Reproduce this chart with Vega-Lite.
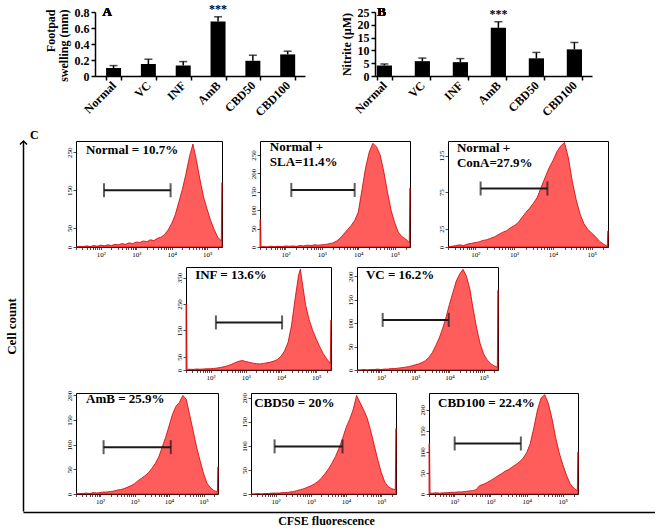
{
"$schema": "https://vega.github.io/schema/vega-lite/v6.json",
"background": "white",
"padding": {"left": 5, "top": 2, "right": 0, "bottom": 0},
"spacing": 11,
"config": {
  "font": "Liberation Serif",
  "view": {"stroke": null},
  "text": {"color": "#000"},
  "axis": {"labelFont": "Liberation Serif", "titleFont": "Liberation Serif", "labelColor": "#000", "titleColor": "#000", "domainColor": "#000", "tickColor": "#000", "grid": false, "labelFontSize": 7, "tickSize": 3, "labelPadding": 1, "labelOverlap": false}
},
"datasets": {
  "footpad": [
    {"grp": "Normal", "mean": 0.10, "hi": 0.13, "sig": ""},
    {"grp": "VC", "mean": 0.15, "hi": 0.21, "sig": ""},
    {"grp": "INF", "mean": 0.13, "hi": 0.18, "sig": ""},
    {"grp": "AmB", "mean": 0.68, "hi": 0.74, "sig": "***"},
    {"grp": "CBD50", "mean": 0.19, "hi": 0.26, "sig": ""},
    {"grp": "CBD100", "mean": 0.27, "hi": 0.31, "sig": ""}
  ],
  "nitrite": [
    {"grp": "Normal", "mean": 4.1, "hi": 4.7, "sig": ""},
    {"grp": "VC", "mean": 5.8, "hi": 7.0, "sig": ""},
    {"grp": "INF", "mean": 5.4, "hi": 6.8, "sig": ""},
    {"grp": "AmB", "mean": 18.8, "hi": 21.2, "sig": "***"},
    {"grp": "CBD50", "mean": 6.9, "hi": 9.2, "sig": ""},
    {"grp": "CBD100", "mean": 10.4, "hi": 13.1, "sig": ""}
  ],
  "gates": [
    {"g": "Normal", "x1": 2.09, "x2": 3.97, "y": 150, "label": "Normal = 10.7%"},
    {"g": "SLA", "x1": 2.16, "x2": 3.9, "y": 155, "label": ["Normal +", "SLA=11.4%"]},
    {"g": "ConA", "x1": 2.14, "x2": 3.86, "y": 80, "label": ["Normal +", "ConA=27.9%"]},
    {"g": "INF", "x1": 2.15, "x2": 4.03, "y": 180, "label": "INF = 13.6%"},
    {"g": "VC", "x1": 2.05, "x2": 3.98, "y": 107, "label": "VC = 16.2%"},
    {"g": "AmB", "x1": 2.1, "x2": 4.05, "y": 95, "label": "AmB = 25.9%"},
    {"g": "CBD50", "x1": 1.97, "x2": 3.9, "y": 99, "label": "CBD50 = 20%"},
    {"g": "CBD100", "x1": 2.01, "x2": 3.84, "y": 120, "label": "CBD100 = 22.4%"}
  ],
  "hist": [
{"g":"Normal","x":1.3,"y":0},{"g":"Normal","x":1.4,"y":2},{"g":"Normal","x":1.5,"y":1},{"g":"Normal","x":1.6,"y":3},{"g":"Normal","x":1.7,"y":1},{"g":"Normal","x":1.8,"y":4},{"g":"Normal","x":1.9,"y":2},{"g":"Normal","x":2.0,"y":5},{"g":"Normal","x":2.1,"y":3},{"g":"Normal","x":2.2,"y":6},{"g":"Normal","x":2.3,"y":4},{"g":"Normal","x":2.4,"y":7},{"g":"Normal","x":2.5,"y":6},{"g":"Normal","x":2.6,"y":9},{"g":"Normal","x":2.7,"y":7},{"g":"Normal","x":2.8,"y":11},{"g":"Normal","x":2.9,"y":9},{"g":"Normal","x":3.0,"y":13},{"g":"Normal","x":3.1,"y":12},{"g":"Normal","x":3.2,"y":16},{"g":"Normal","x":3.3,"y":14},{"g":"Normal","x":3.4,"y":19},{"g":"Normal","x":3.5,"y":17},{"g":"Normal","x":3.6,"y":23},{"g":"Normal","x":3.7,"y":26},{"g":"Normal","x":3.8,"y":33},{"g":"Normal","x":3.9,"y":45},{"g":"Normal","x":4.0,"y":62},{"g":"Normal","x":4.1,"y":85},{"g":"Normal","x":4.2,"y":118},{"g":"Normal","x":4.3,"y":152},{"g":"Normal","x":4.4,"y":192},{"g":"Normal","x":4.5,"y":238},{"g":"Normal","x":4.6,"y":272},{"g":"Normal","x":4.7,"y":228},{"g":"Normal","x":4.8,"y":178},{"g":"Normal","x":4.9,"y":132},{"g":"Normal","x":5.0,"y":100},{"g":"Normal","x":5.1,"y":70},{"g":"Normal","x":5.2,"y":46},{"g":"Normal","x":5.3,"y":26},{"g":"Normal","x":5.4,"y":16},{"g":"Normal","x":5.42,"y":170},
{"g":"SLA","x":1.3,"y":75},{"g":"SLA","x":1.315,"y":75},{"g":"SLA","x":1.33,"y":0},{"g":"SLA","x":1.4,"y":1},{"g":"SLA","x":1.5,"y":0},{"g":"SLA","x":1.6,"y":2},{"g":"SLA","x":1.7,"y":1},{"g":"SLA","x":1.8,"y":2},{"g":"SLA","x":1.9,"y":1},{"g":"SLA","x":2.0,"y":3},{"g":"SLA","x":2.1,"y":2},{"g":"SLA","x":2.2,"y":3},{"g":"SLA","x":2.3,"y":2},{"g":"SLA","x":2.4,"y":4},{"g":"SLA","x":2.5,"y":3},{"g":"SLA","x":2.6,"y":5},{"g":"SLA","x":2.7,"y":4},{"g":"SLA","x":2.8,"y":6},{"g":"SLA","x":2.9,"y":5},{"g":"SLA","x":3.0,"y":6},{"g":"SLA","x":3.1,"y":7},{"g":"SLA","x":3.2,"y":9},{"g":"SLA","x":3.3,"y":11},{"g":"SLA","x":3.4,"y":16},{"g":"SLA","x":3.5,"y":24},{"g":"SLA","x":3.6,"y":35},{"g":"SLA","x":3.7,"y":47},{"g":"SLA","x":3.8,"y":58},{"g":"SLA","x":3.9,"y":72},{"g":"SLA","x":4.0,"y":95},{"g":"SLA","x":4.1,"y":155},{"g":"SLA","x":4.2,"y":215},{"g":"SLA","x":4.3,"y":258},{"g":"SLA","x":4.4,"y":282},{"g":"SLA","x":4.5,"y":272},{"g":"SLA","x":4.6,"y":250},{"g":"SLA","x":4.7,"y":205},{"g":"SLA","x":4.8,"y":150},{"g":"SLA","x":4.9,"y":100},{"g":"SLA","x":5.0,"y":66},{"g":"SLA","x":5.1,"y":40},{"g":"SLA","x":5.2,"y":28},{"g":"SLA","x":5.3,"y":22},{"g":"SLA","x":5.4,"y":12},{"g":"SLA","x":5.42,"y":160},
{"g":"ConA","x":1.3,"y":0},{"g":"ConA","x":1.4,"y":1},{"g":"ConA","x":1.5,"y":2},{"g":"ConA","x":1.6,"y":3},{"g":"ConA","x":1.7,"y":2},{"g":"ConA","x":1.8,"y":4},{"g":"ConA","x":1.9,"y":5},{"g":"ConA","x":2.0,"y":6},{"g":"ConA","x":2.1,"y":7},{"g":"ConA","x":2.2,"y":9},{"g":"ConA","x":2.3,"y":10},{"g":"ConA","x":2.4,"y":12},{"g":"ConA","x":2.5,"y":14},{"g":"ConA","x":2.6,"y":17},{"g":"ConA","x":2.7,"y":20},{"g":"ConA","x":2.8,"y":22},{"g":"ConA","x":2.9,"y":26},{"g":"ConA","x":3.0,"y":29},{"g":"ConA","x":3.1,"y":33},{"g":"ConA","x":3.2,"y":40},{"g":"ConA","x":3.3,"y":47},{"g":"ConA","x":3.4,"y":53},{"g":"ConA","x":3.5,"y":60},{"g":"ConA","x":3.6,"y":68},{"g":"ConA","x":3.7,"y":82},{"g":"ConA","x":3.8,"y":95},{"g":"ConA","x":3.9,"y":108},{"g":"ConA","x":4.0,"y":118},{"g":"ConA","x":4.1,"y":130},{"g":"ConA","x":4.2,"y":138},{"g":"ConA","x":4.3,"y":143},{"g":"ConA","x":4.4,"y":122},{"g":"ConA","x":4.5,"y":90},{"g":"ConA","x":4.6,"y":65},{"g":"ConA","x":4.7,"y":45},{"g":"ConA","x":4.8,"y":32},{"g":"ConA","x":4.9,"y":24},{"g":"ConA","x":5.0,"y":19},{"g":"ConA","x":5.1,"y":14},{"g":"ConA","x":5.2,"y":8},{"g":"ConA","x":5.3,"y":4},{"g":"ConA","x":5.4,"y":1},{"g":"ConA","x":5.42,"y":22},
{"g":"INF","x":1.3,"y":250},{"g":"INF","x":1.315,"y":250},{"g":"INF","x":1.33,"y":2},{"g":"INF","x":1.4,"y":3},{"g":"INF","x":1.5,"y":2},{"g":"INF","x":1.6,"y":4},{"g":"INF","x":1.7,"y":3},{"g":"INF","x":1.8,"y":4},{"g":"INF","x":1.9,"y":5},{"g":"INF","x":2.0,"y":5},{"g":"INF","x":2.1,"y":6},{"g":"INF","x":2.2,"y":8},{"g":"INF","x":2.3,"y":10},{"g":"INF","x":2.4,"y":13},{"g":"INF","x":2.5,"y":17},{"g":"INF","x":2.6,"y":22},{"g":"INF","x":2.7,"y":28},{"g":"INF","x":2.8,"y":33},{"g":"INF","x":2.9,"y":36},{"g":"INF","x":3.0,"y":32},{"g":"INF","x":3.1,"y":29},{"g":"INF","x":3.2,"y":26},{"g":"INF","x":3.3,"y":24},{"g":"INF","x":3.4,"y":23},{"g":"INF","x":3.5,"y":25},{"g":"INF","x":3.6,"y":27},{"g":"INF","x":3.7,"y":30},{"g":"INF","x":3.8,"y":34},{"g":"INF","x":3.9,"y":40},{"g":"INF","x":4.0,"y":52},{"g":"INF","x":4.1,"y":72},{"g":"INF","x":4.2,"y":105},{"g":"INF","x":4.3,"y":170},{"g":"INF","x":4.4,"y":270},{"g":"INF","x":4.5,"y":360},{"g":"INF","x":4.55,"y":382},{"g":"INF","x":4.6,"y":335},{"g":"INF","x":4.7,"y":245},{"g":"INF","x":4.8,"y":190},{"g":"INF","x":4.9,"y":150},{"g":"INF","x":5.0,"y":118},{"g":"INF","x":5.1,"y":88},{"g":"INF","x":5.2,"y":62},{"g":"INF","x":5.3,"y":42},{"g":"INF","x":5.4,"y":25},{"g":"INF","x":5.42,"y":190},
{"g":"VC","x":1.3,"y":0},{"g":"VC","x":1.4,"y":0},{"g":"VC","x":1.5,"y":1},{"g":"VC","x":1.6,"y":0},{"g":"VC","x":1.7,"y":1},{"g":"VC","x":1.8,"y":1},{"g":"VC","x":1.9,"y":2},{"g":"VC","x":2.0,"y":1},{"g":"VC","x":2.1,"y":2},{"g":"VC","x":2.2,"y":2},{"g":"VC","x":2.3,"y":3},{"g":"VC","x":2.4,"y":3},{"g":"VC","x":2.5,"y":4},{"g":"VC","x":2.6,"y":5},{"g":"VC","x":2.7,"y":6},{"g":"VC","x":2.8,"y":7},{"g":"VC","x":2.9,"y":9},{"g":"VC","x":3.0,"y":11},{"g":"VC","x":3.1,"y":13},{"g":"VC","x":3.2,"y":16},{"g":"VC","x":3.3,"y":20},{"g":"VC","x":3.4,"y":27},{"g":"VC","x":3.5,"y":37},{"g":"VC","x":3.6,"y":52},{"g":"VC","x":3.7,"y":68},{"g":"VC","x":3.8,"y":88},{"g":"VC","x":3.9,"y":112},{"g":"VC","x":4.0,"y":140},{"g":"VC","x":4.1,"y":165},{"g":"VC","x":4.2,"y":190},{"g":"VC","x":4.3,"y":205},{"g":"VC","x":4.4,"y":215},{"g":"VC","x":4.5,"y":200},{"g":"VC","x":4.6,"y":172},{"g":"VC","x":4.7,"y":128},{"g":"VC","x":4.8,"y":88},{"g":"VC","x":4.9,"y":56},{"g":"VC","x":5.0,"y":34},{"g":"VC","x":5.1,"y":22},{"g":"VC","x":5.2,"y":14},{"g":"VC","x":5.3,"y":9},{"g":"VC","x":5.4,"y":6},{"g":"VC","x":5.42,"y":170},
{"g":"AmB","x":1.3,"y":0},{"g":"AmB","x":1.4,"y":1},{"g":"AmB","x":1.5,"y":1},{"g":"AmB","x":1.6,"y":2},{"g":"AmB","x":1.7,"y":1},{"g":"AmB","x":1.8,"y":3},{"g":"AmB","x":1.9,"y":2},{"g":"AmB","x":2.0,"y":3},{"g":"AmB","x":2.1,"y":4},{"g":"AmB","x":2.2,"y":4},{"g":"AmB","x":2.3,"y":5},{"g":"AmB","x":2.4,"y":6},{"g":"AmB","x":2.5,"y":8},{"g":"AmB","x":2.6,"y":9},{"g":"AmB","x":2.7,"y":11},{"g":"AmB","x":2.8,"y":14},{"g":"AmB","x":2.9,"y":17},{"g":"AmB","x":3.0,"y":21},{"g":"AmB","x":3.1,"y":27},{"g":"AmB","x":3.2,"y":32},{"g":"AmB","x":3.3,"y":37},{"g":"AmB","x":3.4,"y":43},{"g":"AmB","x":3.5,"y":52},{"g":"AmB","x":3.6,"y":62},{"g":"AmB","x":3.7,"y":75},{"g":"AmB","x":3.8,"y":95},{"g":"AmB","x":3.9,"y":115},{"g":"AmB","x":4.0,"y":138},{"g":"AmB","x":4.1,"y":162},{"g":"AmB","x":4.2,"y":178},{"g":"AmB","x":4.3,"y":186},{"g":"AmB","x":4.4,"y":200},{"g":"AmB","x":4.5,"y":192},{"g":"AmB","x":4.6,"y":160},{"g":"AmB","x":4.7,"y":128},{"g":"AmB","x":4.8,"y":95},{"g":"AmB","x":4.9,"y":68},{"g":"AmB","x":5.0,"y":42},{"g":"AmB","x":5.1,"y":22},{"g":"AmB","x":5.2,"y":13},{"g":"AmB","x":5.3,"y":7},{"g":"AmB","x":5.4,"y":4},{"g":"AmB","x":5.42,"y":55},
{"g":"CBD50","x":1.3,"y":0},{"g":"CBD50","x":1.4,"y":0},{"g":"CBD50","x":1.5,"y":1},{"g":"CBD50","x":1.6,"y":0},{"g":"CBD50","x":1.7,"y":1},{"g":"CBD50","x":1.8,"y":1},{"g":"CBD50","x":1.9,"y":2},{"g":"CBD50","x":2.0,"y":2},{"g":"CBD50","x":2.1,"y":2},{"g":"CBD50","x":2.2,"y":3},{"g":"CBD50","x":2.3,"y":3},{"g":"CBD50","x":2.4,"y":4},{"g":"CBD50","x":2.5,"y":5},{"g":"CBD50","x":2.6,"y":7},{"g":"CBD50","x":2.7,"y":9},{"g":"CBD50","x":2.8,"y":11},{"g":"CBD50","x":2.9,"y":14},{"g":"CBD50","x":3.0,"y":17},{"g":"CBD50","x":3.1,"y":21},{"g":"CBD50","x":3.2,"y":26},{"g":"CBD50","x":3.3,"y":33},{"g":"CBD50","x":3.4,"y":42},{"g":"CBD50","x":3.5,"y":52},{"g":"CBD50","x":3.6,"y":64},{"g":"CBD50","x":3.7,"y":78},{"g":"CBD50","x":3.8,"y":95},{"g":"CBD50","x":3.9,"y":115},{"g":"CBD50","x":4.0,"y":138},{"g":"CBD50","x":4.1,"y":155},{"g":"CBD50","x":4.2,"y":175},{"g":"CBD50","x":4.3,"y":205},{"g":"CBD50","x":4.4,"y":190},{"g":"CBD50","x":4.5,"y":175},{"g":"CBD50","x":4.6,"y":158},{"g":"CBD50","x":4.7,"y":132},{"g":"CBD50","x":4.8,"y":102},{"g":"CBD50","x":4.9,"y":72},{"g":"CBD50","x":5.0,"y":45},{"g":"CBD50","x":5.1,"y":25},{"g":"CBD50","x":5.2,"y":15},{"g":"CBD50","x":5.3,"y":11},{"g":"CBD50","x":5.4,"y":9},{"g":"CBD50","x":5.42,"y":136},
{"g":"CBD100","x":1.3,"y":120},{"g":"CBD100","x":1.315,"y":120},{"g":"CBD100","x":1.33,"y":2},{"g":"CBD100","x":1.4,"y":2},{"g":"CBD100","x":1.5,"y":3},{"g":"CBD100","x":1.6,"y":2},{"g":"CBD100","x":1.7,"y":3},{"g":"CBD100","x":1.8,"y":3},{"g":"CBD100","x":1.9,"y":4},{"g":"CBD100","x":2.0,"y":4},{"g":"CBD100","x":2.1,"y":5},{"g":"CBD100","x":2.2,"y":5},{"g":"CBD100","x":2.3,"y":6},{"g":"CBD100","x":2.4,"y":7},{"g":"CBD100","x":2.5,"y":8},{"g":"CBD100","x":2.6,"y":10},{"g":"CBD100","x":2.7,"y":20},{"g":"CBD100","x":2.8,"y":23},{"g":"CBD100","x":2.9,"y":27},{"g":"CBD100","x":3.0,"y":32},{"g":"CBD100","x":3.1,"y":37},{"g":"CBD100","x":3.2,"y":43},{"g":"CBD100","x":3.3,"y":48},{"g":"CBD100","x":3.4,"y":54},{"g":"CBD100","x":3.5,"y":58},{"g":"CBD100","x":3.6,"y":64},{"g":"CBD100","x":3.7,"y":70},{"g":"CBD100","x":3.8,"y":76},{"g":"CBD100","x":3.9,"y":85},{"g":"CBD100","x":4.0,"y":98},{"g":"CBD100","x":4.1,"y":120},{"g":"CBD100","x":4.2,"y":158},{"g":"CBD100","x":4.3,"y":200},{"g":"CBD100","x":4.4,"y":228},{"g":"CBD100","x":4.5,"y":236},{"g":"CBD100","x":4.6,"y":215},{"g":"CBD100","x":4.7,"y":180},{"g":"CBD100","x":4.8,"y":135},{"g":"CBD100","x":4.9,"y":98},{"g":"CBD100","x":5.0,"y":70},{"g":"CBD100","x":5.1,"y":45},{"g":"CBD100","x":5.2,"y":25},{"g":"CBD100","x":5.3,"y":14},{"g":"CBD100","x":5.4,"y":8},{"g":"CBD100","x":5.42,"y":100}
  ]
},
"vconcat": [
 {"bounds": "flush", "spacing": 70, "hconcat": [
   {"width": 2, "height": 64, "data": {"values": []}, "mark": {"type": "point", "opacity": 0, "size": 0}},
   {"width": 210, "height": 64, "data": {"name": "footpad"},
    "resolve": {"axis": {"y": "independent"}},
    "encoding": {"x": {"field": "grp", "type": "nominal", "sort": null, "scale": {"paddingInner": 0.57, "paddingOuter": 0.3, "align": 0.53},
      "axis": {"title": null, "labelAngle": -45, "labelAlign": "right", "labelBaseline": "middle", "labelFontSize": 12, "labelFontWeight": "bold", "tickBand": "extent", "domainWidth": 1.5, "tickSize": 4, "tickWidth": 1.5, "labelPadding": 3}}},
    "layer": [
      {"mark": {"type": "bar", "color": "#000"}, "encoding": {"y": {"field": "mean", "type": "quantitative", "scale": {"domain": [0, 0.8], "nice": false},
        "axis": {"title": ["Footpad", "swelling (mm)"], "values": [0, 0.2, 0.4, 0.6, 0.8], "labelExpr": "datum.value == 0 ? '0' : format(datum.value, '.1f')", "labelFontSize": 12, "labelFontWeight": "bold", "labelFlush": false, "titleFontSize": 12, "titleFontWeight": "bold", "titleAngle": -90, "titleAlign": "right", "titleBaseline": "bottom", "titleX": -38, "titleY": -3, "titleLineHeight": 13, "domainWidth": 1.5, "tickSize": 4, "tickWidth": 1.5, "labelPadding": 2}}}},
      {"mark": {"type": "rule", "color": "#000", "strokeWidth": 1.5}, "encoding": {"y": {"field": "mean", "type": "quantitative", "axis": null}, "y2": {"field": "hi"}}},
      {"mark": {"type": "tick", "color": "#000", "thickness": 1.5, "size": 8}, "encoding": {"y": {"field": "hi", "type": "quantitative", "axis": null}}},
      {"mark": {"type": "text", "color": "#000", "baseline": "bottom", "dy": -1, "fontSize": 12, "fontWeight": "bold"}, "encoding": {"y": {"field": "hi", "type": "quantitative", "axis": null}, "text": {"field": "sig"}}},
      {"mark": {"type": "text", "color": "#000", "align": "left", "baseline": "middle", "dx": -11, "fontSize": 13, "fontWeight": "bold"}, "encoding": {"x": {"datum": "Normal"}, "y": {"datum": 0.8, "axis": null}, "text": {"value": "A"}}}
    ]},
   {"width": 217, "height": 64, "data": {"name": "nitrite"},
    "resolve": {"axis": {"y": "independent"}},
    "encoding": {"x": {"field": "grp", "type": "nominal", "sort": null, "scale": {"paddingInner": 0.6, "paddingOuter": 0.155, "align": 0.15},
      "axis": {"title": null, "labelAngle": -45, "labelAlign": "right", "labelBaseline": "middle", "labelFontSize": 12, "labelFontWeight": "bold", "tickBand": "extent", "domainWidth": 1.5, "tickSize": 4, "tickWidth": 1.5, "labelPadding": 3}}},
    "layer": [
      {"mark": {"type": "bar", "color": "#000"}, "encoding": {"y": {"field": "mean", "type": "quantitative", "scale": {"domain": [0, 25], "nice": false},
        "axis": {"title": "Nitrite (µM)", "values": [0, 5, 10, 15, 20, 25], "labelFontSize": 12, "labelFontWeight": "bold", "labelFlush": false, "titleFontSize": 12, "titleFontWeight": "bold", "titlePadding": 4, "domainWidth": 1.5, "tickSize": 4, "tickWidth": 1.5, "labelPadding": 2}}}},
      {"mark": {"type": "rule", "color": "#000", "strokeWidth": 1.5}, "encoding": {"y": {"field": "mean", "type": "quantitative", "axis": null}, "y2": {"field": "hi"}}},
      {"mark": {"type": "tick", "color": "#000", "thickness": 1.5, "size": 8}, "encoding": {"y": {"field": "hi", "type": "quantitative", "axis": null}}},
      {"mark": {"type": "text", "color": "#000", "baseline": "bottom", "dy": -1, "fontSize": 12, "fontWeight": "bold"}, "encoding": {"y": {"field": "hi", "type": "quantitative", "axis": null}, "text": {"field": "sig"}}},
      {"mark": {"type": "text", "color": "#000", "align": "left", "baseline": "middle", "dx": -7, "fontSize": 13, "fontWeight": "bold"}, "encoding": {"x": {"datum": "Normal"}, "y": {"datum": 25, "axis": null}, "text": {"value": "B"}}}
    ]}
 ]},
 {"spacing": -2, "vconcat": [
   {"spacing": 25, "hconcat": [
     {"width": 1, "height": 370,
      "title": {"text": "C", "anchor": "start", "frame": "group", "dx": 7, "offset": -4, "fontSize": 12, "fontWeight": "bold", "font": "Liberation Serif", "color": "#000"},
      "data": {"values": [{"v": 0}]},
      "layer": [
        {"mark": {"type": "point", "opacity": 0, "size": 0}, "encoding": {"y": {"field": "v", "type": "quantitative", "scale": {"domain": [0, 1], "nice": false},
          "axis": {"title": "Cell count", "ticks": false, "labels": false, "domainWidth": 1.5, "titleFontSize": 13, "titleFontWeight": "bold", "titlePadding": 5}}}},
        {"mark": {"type": "point", "shape": "M-1,1L0,0L1,1", "filled": false, "stroke": "#000", "strokeWidth": 1.5, "size": 50, "opacity": 1}, "encoding": {"y": {"datum": 1}}}
      ]},
     {"spacing": 8, "vconcat": [
       {"bounds": "flush", "spacing": 38, "hconcat": [
         {"width": 146, "height": 106, "view": {"stroke": "#000"},
          "resolve": {"axis": {"x": "independent", "y": "independent"}},
          "layer": [
           {"data": {"name": "hist"}, "transform": [{"filter": "datum.g == 'Normal'"}],
            "mark": {"type": "area", "fill": "#ff5c5c", "stroke": "#d00000", "strokeWidth": 0.8},
            "encoding": {
              "x": {"field": "x", "type": "quantitative", "scale": {"domain": [1.3, 5.42], "nice": false, "zero": false}, "axis": {"title": null, "domain": false, "labelFlush": false, "values": [1.301,1.477,1.602,1.699,1.778,1.845,1.903,1.954,2,2.301,2.477,2.602,2.699,2.778,2.845,2.903,2.954,3,3.301,3.477,3.602,3.699,3.778,3.845,3.903,3.954,4,4.301,4.477,4.602,4.699,4.778,4.845,4.903,4.954,5,5.301], "labelExpr": "datum.value == 2 ? '10²' : datum.value == 3 ? '10³' : datum.value == 4 ? '10⁴' : datum.value == 5 ? '10⁵' : ''", "tickSize": 2.5, "tickWidth": 0.7}},
              "y": {"field": "y", "type": "quantitative", "scale": {"domain": [0, 280], "nice": false}, "axis": {"title": null, "domain": false, "labelFlush": false, "values": [0, 50, 150, 250], "labelAngle": -90, "labelAlign": "center", "labelBaseline": "bottom", "tickWidth": 0.7}}}},
           {"data": {"name": "gates"}, "transform": [{"filter": "datum.g == 'Normal'"}],
            "layer": [
              {"mark": {"type": "rule", "color": "#1a1a1a", "strokeWidth": 2}, "encoding": {"x": {"field": "x1", "type": "quantitative", "axis": null}, "x2": {"field": "x2"}, "y": {"field": "y", "type": "quantitative", "axis": null}}},
              {"mark": {"type": "tick", "orient": "vertical", "color": "#1a1a1a", "thickness": 2, "size": 14}, "encoding": {"x": {"field": "x1", "type": "quantitative", "axis": null}, "y": {"field": "y", "type": "quantitative", "axis": null}}},
              {"mark": {"type": "tick", "orient": "vertical", "color": "#1a1a1a", "thickness": 2, "size": 14}, "encoding": {"x": {"field": "x2", "type": "quantitative", "axis": null}, "y": {"field": "y", "type": "quantitative", "axis": null}}},
              {"mark": {"type": "text", "color": "#000", "align": "left", "baseline": "top", "dy": 3, "fontSize": 13, "fontWeight": "bold", "lineHeight": 15}, "encoding": {"x": {"datum": 1.58, "axis": null}, "y": {"datum": 280, "axis": null}, "text": {"field": "label"}}}
            ]}
          ]},
         {"width": 150, "height": 106, "view": {"stroke": "#000"},
          "resolve": {"axis": {"x": "independent", "y": "independent"}},
          "layer": [
           {"data": {"name": "hist"}, "transform": [{"filter": "datum.g == 'SLA'"}],
            "mark": {"type": "area", "fill": "#ff5c5c", "stroke": "#d00000", "strokeWidth": 0.8},
            "encoding": {
              "x": {"field": "x", "type": "quantitative", "scale": {"domain": [1.3, 5.42], "nice": false, "zero": false}, "axis": {"title": null, "domain": false, "labelFlush": false, "values": [1.301,1.477,1.602,1.699,1.778,1.845,1.903,1.954,2,2.301,2.477,2.602,2.699,2.778,2.845,2.903,2.954,3,3.301,3.477,3.602,3.699,3.778,3.845,3.903,3.954,4,4.301,4.477,4.602,4.699,4.778,4.845,4.903,4.954,5,5.301], "labelExpr": "datum.value == 2 ? '10²' : datum.value == 3 ? '10³' : datum.value == 4 ? '10⁴' : datum.value == 5 ? '10⁵' : ''", "tickSize": 2.5, "tickWidth": 0.7}},
              "y": {"field": "y", "type": "quantitative", "scale": {"domain": [0, 288], "nice": false}, "axis": {"title": null, "domain": false, "labelFlush": false, "values": [0, 50, 100, 150, 200, 250], "labelAngle": -90, "labelAlign": "center", "labelBaseline": "bottom", "tickWidth": 0.7}}}},
           {"data": {"name": "gates"}, "transform": [{"filter": "datum.g == 'SLA'"}],
            "layer": [
              {"mark": {"type": "rule", "color": "#1a1a1a", "strokeWidth": 2}, "encoding": {"x": {"field": "x1", "type": "quantitative", "axis": null}, "x2": {"field": "x2"}, "y": {"field": "y", "type": "quantitative", "axis": null}}},
              {"mark": {"type": "tick", "orient": "vertical", "color": "#1a1a1a", "thickness": 2, "size": 14}, "encoding": {"x": {"field": "x1", "type": "quantitative", "axis": null}, "y": {"field": "y", "type": "quantitative", "axis": null}}},
              {"mark": {"type": "tick", "orient": "vertical", "color": "#1a1a1a", "thickness": 2, "size": 14}, "encoding": {"x": {"field": "x2", "type": "quantitative", "axis": null}, "y": {"field": "y", "type": "quantitative", "axis": null}}},
              {"mark": {"type": "text", "color": "#000", "align": "left", "baseline": "top", "dy": 0, "fontSize": 13, "fontWeight": "bold", "lineHeight": 15}, "encoding": {"x": {"datum": 1.57, "axis": null}, "y": {"datum": 288, "axis": null}, "text": {"field": "label"}}}
            ]}
          ]},
         {"width": 160, "height": 106, "view": {"stroke": "#000"},
          "resolve": {"axis": {"x": "independent", "y": "independent"}},
          "layer": [
           {"data": {"name": "hist"}, "transform": [{"filter": "datum.g == 'ConA'"}],
            "mark": {"type": "area", "fill": "#ff5c5c", "stroke": "#d00000", "strokeWidth": 0.8},
            "encoding": {
              "x": {"field": "x", "type": "quantitative", "scale": {"domain": [1.3, 5.42], "nice": false, "zero": false}, "axis": {"title": null, "domain": false, "labelFlush": false, "values": [1.301,1.477,1.602,1.699,1.778,1.845,1.903,1.954,2,2.301,2.477,2.602,2.699,2.778,2.845,2.903,2.954,3,3.301,3.477,3.602,3.699,3.778,3.845,3.903,3.954,4,4.301,4.477,4.602,4.699,4.778,4.845,4.903,4.954,5,5.301], "labelExpr": "datum.value == 2 ? '10²' : datum.value == 3 ? '10³' : datum.value == 4 ? '10⁴' : datum.value == 5 ? '10⁵' : ''", "tickSize": 2.5, "tickWidth": 0.7}},
              "y": {"field": "y", "type": "quantitative", "scale": {"domain": [0, 145], "nice": false}, "axis": {"title": null, "domain": false, "labelFlush": false, "values": [0, 25, 75, 125], "labelAngle": -90, "labelAlign": "center", "labelBaseline": "bottom", "tickWidth": 0.7}}}},
           {"data": {"name": "gates"}, "transform": [{"filter": "datum.g == 'ConA'"}],
            "layer": [
              {"mark": {"type": "rule", "color": "#1a1a1a", "strokeWidth": 2}, "encoding": {"x": {"field": "x1", "type": "quantitative", "axis": null}, "x2": {"field": "x2"}, "y": {"field": "y", "type": "quantitative", "axis": null}}},
              {"mark": {"type": "tick", "orient": "vertical", "color": "#1a1a1a", "thickness": 2, "size": 14}, "encoding": {"x": {"field": "x1", "type": "quantitative", "axis": null}, "y": {"field": "y", "type": "quantitative", "axis": null}}},
              {"mark": {"type": "tick", "orient": "vertical", "color": "#1a1a1a", "thickness": 2, "size": 14}, "encoding": {"x": {"field": "x2", "type": "quantitative", "axis": null}, "y": {"field": "y", "type": "quantitative", "axis": null}}},
              {"mark": {"type": "text", "color": "#000", "align": "left", "baseline": "top", "dy": 1, "fontSize": 13, "fontWeight": "bold", "lineHeight": 15}, "encoding": {"x": {"datum": 1.53, "axis": null}, "y": {"datum": 145, "axis": null}, "text": {"field": "label"}}}
            ]}
          ]}
       ]},
       {"bounds": "flush", "spacing": 26, "hconcat": [
         {"width": 84, "height": 10, "data": {"values": []}, "mark": {"type": "point", "opacity": 0, "size": 0}},
         {"width": 145, "height": 103, "view": {"stroke": "#000"},
          "resolve": {"axis": {"x": "independent", "y": "independent"}},
          "layer": [
           {"data": {"name": "hist"}, "transform": [{"filter": "datum.g == 'INF'"}],
            "mark": {"type": "area", "fill": "#ff5c5c", "stroke": "#d00000", "strokeWidth": 0.8},
            "encoding": {
              "x": {"field": "x", "type": "quantitative", "scale": {"domain": [1.3, 5.42], "nice": false, "zero": false}, "axis": {"title": null, "domain": false, "labelFlush": false, "values": [1.301,1.477,1.602,1.699,1.778,1.845,1.903,1.954,2,2.301,2.477,2.602,2.699,2.778,2.845,2.903,2.954,3,3.301,3.477,3.602,3.699,3.778,3.845,3.903,3.954,4,4.301,4.477,4.602,4.699,4.778,4.845,4.903,4.954,5,5.301], "labelExpr": "datum.value == 2 ? '10²' : datum.value == 3 ? '10³' : datum.value == 4 ? '10⁴' : datum.value == 5 ? '10⁵' : ''", "tickSize": 2.5, "tickWidth": 0.7}},
              "y": {"field": "y", "type": "quantitative", "scale": {"domain": [0, 390], "nice": false}, "axis": {"title": null, "domain": false, "labelFlush": false, "values": [0, 50, 150, 250, 350], "labelAngle": -90, "labelAlign": "center", "labelBaseline": "bottom", "tickWidth": 0.7}}}},
           {"data": {"name": "gates"}, "transform": [{"filter": "datum.g == 'INF'"}],
            "layer": [
              {"mark": {"type": "rule", "color": "#1a1a1a", "strokeWidth": 2}, "encoding": {"x": {"field": "x1", "type": "quantitative", "axis": null}, "x2": {"field": "x2"}, "y": {"field": "y", "type": "quantitative", "axis": null}}},
              {"mark": {"type": "tick", "orient": "vertical", "color": "#1a1a1a", "thickness": 2, "size": 14}, "encoding": {"x": {"field": "x1", "type": "quantitative", "axis": null}, "y": {"field": "y", "type": "quantitative", "axis": null}}},
              {"mark": {"type": "tick", "orient": "vertical", "color": "#1a1a1a", "thickness": 2, "size": 14}, "encoding": {"x": {"field": "x2", "type": "quantitative", "axis": null}, "y": {"field": "y", "type": "quantitative", "axis": null}}},
              {"mark": {"type": "text", "color": "#000", "align": "left", "baseline": "top", "dy": 2, "fontSize": 13, "fontWeight": "bold", "lineHeight": 15}, "encoding": {"x": {"datum": 1.56, "axis": null}, "y": {"datum": 390, "axis": null}, "text": {"field": "label"}}}
            ]}
          ]},
         {"width": 141, "height": 103, "view": {"stroke": "#000"},
          "resolve": {"axis": {"x": "independent", "y": "independent"}},
          "layer": [
           {"data": {"name": "hist"}, "transform": [{"filter": "datum.g == 'VC'"}],
            "mark": {"type": "area", "fill": "#ff5c5c", "stroke": "#d00000", "strokeWidth": 0.8},
            "encoding": {
              "x": {"field": "x", "type": "quantitative", "scale": {"domain": [1.3, 5.42], "nice": false, "zero": false}, "axis": {"title": null, "domain": false, "labelFlush": false, "values": [1.301,1.477,1.602,1.699,1.778,1.845,1.903,1.954,2,2.301,2.477,2.602,2.699,2.778,2.845,2.903,2.954,3,3.301,3.477,3.602,3.699,3.778,3.845,3.903,3.954,4,4.301,4.477,4.602,4.699,4.778,4.845,4.903,4.954,5,5.301], "labelExpr": "datum.value == 2 ? '10²' : datum.value == 3 ? '10³' : datum.value == 4 ? '10⁴' : datum.value == 5 ? '10⁵' : ''", "tickSize": 2.5, "tickWidth": 0.7}},
              "y": {"field": "y", "type": "quantitative", "scale": {"domain": [0, 220], "nice": false}, "axis": {"title": null, "domain": false, "labelFlush": false, "values": [0, 50, 100, 150, 200], "labelAngle": -90, "labelAlign": "center", "labelBaseline": "bottom", "tickWidth": 0.7}}}},
           {"data": {"name": "gates"}, "transform": [{"filter": "datum.g == 'VC'"}],
            "layer": [
              {"mark": {"type": "rule", "color": "#1a1a1a", "strokeWidth": 2}, "encoding": {"x": {"field": "x1", "type": "quantitative", "axis": null}, "x2": {"field": "x2"}, "y": {"field": "y", "type": "quantitative", "axis": null}}},
              {"mark": {"type": "tick", "orient": "vertical", "color": "#1a1a1a", "thickness": 2, "size": 14}, "encoding": {"x": {"field": "x1", "type": "quantitative", "axis": null}, "y": {"field": "y", "type": "quantitative", "axis": null}}},
              {"mark": {"type": "tick", "orient": "vertical", "color": "#1a1a1a", "thickness": 2, "size": 14}, "encoding": {"x": {"field": "x2", "type": "quantitative", "axis": null}, "y": {"field": "y", "type": "quantitative", "axis": null}}},
              {"mark": {"type": "text", "color": "#000", "align": "left", "baseline": "top", "dy": 2, "fontSize": 13, "fontWeight": "bold", "lineHeight": 15}, "encoding": {"x": {"datum": 1.56, "axis": null}, "y": {"datum": 220, "axis": null}, "text": {"field": "label"}}}
            ]}
          ]}
       ]},
       {"bounds": "flush", "spacing": 33, "hconcat": [
         {"width": 142, "height": 101, "view": {"stroke": "#000"},
          "resolve": {"axis": {"x": "independent", "y": "independent"}},
          "layer": [
           {"data": {"name": "hist"}, "transform": [{"filter": "datum.g == 'AmB'"}],
            "mark": {"type": "area", "fill": "#ff5c5c", "stroke": "#d00000", "strokeWidth": 0.8},
            "encoding": {
              "x": {"field": "x", "type": "quantitative", "scale": {"domain": [1.3, 5.42], "nice": false, "zero": false}, "axis": {"title": null, "domain": false, "labelFlush": false, "values": [1.301,1.477,1.602,1.699,1.778,1.845,1.903,1.954,2,2.301,2.477,2.602,2.699,2.778,2.845,2.903,2.954,3,3.301,3.477,3.602,3.699,3.778,3.845,3.903,3.954,4,4.301,4.477,4.602,4.699,4.778,4.845,4.903,4.954,5,5.301], "labelExpr": "datum.value == 2 ? '10²' : datum.value == 3 ? '10³' : datum.value == 4 ? '10⁴' : datum.value == 5 ? '10⁵' : ''", "tickSize": 2.5, "tickWidth": 0.7}},
              "y": {"field": "y", "type": "quantitative", "scale": {"domain": [0, 205], "nice": false}, "axis": {"title": null, "domain": false, "labelFlush": false, "values": [0, 50, 100, 150, 200], "labelAngle": -90, "labelAlign": "center", "labelBaseline": "bottom", "tickWidth": 0.7}}}},
           {"data": {"name": "gates"}, "transform": [{"filter": "datum.g == 'AmB'"}],
            "layer": [
              {"mark": {"type": "rule", "color": "#1a1a1a", "strokeWidth": 2}, "encoding": {"x": {"field": "x1", "type": "quantitative", "axis": null}, "x2": {"field": "x2"}, "y": {"field": "y", "type": "quantitative", "axis": null}}},
              {"mark": {"type": "tick", "orient": "vertical", "color": "#1a1a1a", "thickness": 2, "size": 14}, "encoding": {"x": {"field": "x1", "type": "quantitative", "axis": null}, "y": {"field": "y", "type": "quantitative", "axis": null}}},
              {"mark": {"type": "tick", "orient": "vertical", "color": "#1a1a1a", "thickness": 2, "size": 14}, "encoding": {"x": {"field": "x2", "type": "quantitative", "axis": null}, "y": {"field": "y", "type": "quantitative", "axis": null}}},
              {"mark": {"type": "text", "color": "#000", "align": "left", "baseline": "top", "dy": 0, "fontSize": 13, "fontWeight": "bold", "lineHeight": 15}, "encoding": {"x": {"datum": 1.59, "axis": null}, "y": {"datum": 205, "axis": null}, "text": {"field": "label"}}}
            ]}
          ]},
         {"width": 145, "height": 101, "view": {"stroke": "#000"},
          "resolve": {"axis": {"x": "independent", "y": "independent"}},
          "layer": [
           {"data": {"name": "hist"}, "transform": [{"filter": "datum.g == 'CBD50'"}],
            "mark": {"type": "area", "fill": "#ff5c5c", "stroke": "#d00000", "strokeWidth": 0.8},
            "encoding": {
              "x": {"field": "x", "type": "quantitative", "scale": {"domain": [1.3, 5.42], "nice": false, "zero": false}, "axis": {"title": null, "domain": false, "labelFlush": false, "values": [1.301,1.477,1.602,1.699,1.778,1.845,1.903,1.954,2,2.301,2.477,2.602,2.699,2.778,2.845,2.903,2.954,3,3.301,3.477,3.602,3.699,3.778,3.845,3.903,3.954,4,4.301,4.477,4.602,4.699,4.778,4.845,4.903,4.954,5,5.301], "labelExpr": "datum.value == 2 ? '10²' : datum.value == 3 ? '10³' : datum.value == 4 ? '10⁴' : datum.value == 5 ? '10⁵' : ''", "tickSize": 2.5, "tickWidth": 0.7}},
              "y": {"field": "y", "type": "quantitative", "scale": {"domain": [0, 210], "nice": false}, "axis": {"title": null, "domain": false, "labelFlush": false, "values": [0, 50, 100, 150, 200], "labelAngle": -90, "labelAlign": "center", "labelBaseline": "bottom", "tickWidth": 0.7}}}},
           {"data": {"name": "gates"}, "transform": [{"filter": "datum.g == 'CBD50'"}],
            "layer": [
              {"mark": {"type": "rule", "color": "#1a1a1a", "strokeWidth": 2}, "encoding": {"x": {"field": "x1", "type": "quantitative", "axis": null}, "x2": {"field": "x2"}, "y": {"field": "y", "type": "quantitative", "axis": null}}},
              {"mark": {"type": "tick", "orient": "vertical", "color": "#1a1a1a", "thickness": 2, "size": 14}, "encoding": {"x": {"field": "x1", "type": "quantitative", "axis": null}, "y": {"field": "y", "type": "quantitative", "axis": null}}},
              {"mark": {"type": "tick", "orient": "vertical", "color": "#1a1a1a", "thickness": 2, "size": 14}, "encoding": {"x": {"field": "x2", "type": "quantitative", "axis": null}, "y": {"field": "y", "type": "quantitative", "axis": null}}},
              {"mark": {"type": "text", "color": "#000", "align": "left", "baseline": "top", "dy": 4, "fontSize": 13, "fontWeight": "bold", "lineHeight": 15}, "encoding": {"x": {"datum": 1.39, "axis": null}, "y": {"datum": 210, "axis": null}, "text": {"field": "label"}}}
            ]}
          ]},
         {"width": 149, "height": 101, "view": {"stroke": "#000"},
          "resolve": {"axis": {"x": "independent", "y": "independent"}},
          "layer": [
           {"data": {"name": "hist"}, "transform": [{"filter": "datum.g == 'CBD100'"}],
            "mark": {"type": "area", "fill": "#ff5c5c", "stroke": "#d00000", "strokeWidth": 0.8},
            "encoding": {
              "x": {"field": "x", "type": "quantitative", "scale": {"domain": [1.3, 5.42], "nice": false, "zero": false}, "axis": {"title": null, "domain": false, "labelFlush": false, "values": [1.301,1.477,1.602,1.699,1.778,1.845,1.903,1.954,2,2.301,2.477,2.602,2.699,2.778,2.845,2.903,2.954,3,3.301,3.477,3.602,3.699,3.778,3.845,3.903,3.954,4,4.301,4.477,4.602,4.699,4.778,4.845,4.903,4.954,5,5.301], "labelExpr": "datum.value == 2 ? '10²' : datum.value == 3 ? '10³' : datum.value == 4 ? '10⁴' : datum.value == 5 ? '10⁵' : ''", "tickSize": 2.5, "tickWidth": 0.7}},
              "y": {"field": "y", "type": "quantitative", "scale": {"domain": [0, 240], "nice": false}, "axis": {"title": null, "domain": false, "labelFlush": false, "values": [0, 50, 100, 150, 200], "labelAngle": -90, "labelAlign": "center", "labelBaseline": "bottom", "tickWidth": 0.7}}}},
           {"data": {"name": "gates"}, "transform": [{"filter": "datum.g == 'CBD100'"}],
            "layer": [
              {"mark": {"type": "rule", "color": "#1a1a1a", "strokeWidth": 2}, "encoding": {"x": {"field": "x1", "type": "quantitative", "axis": null}, "x2": {"field": "x2"}, "y": {"field": "y", "type": "quantitative", "axis": null}}},
              {"mark": {"type": "tick", "orient": "vertical", "color": "#1a1a1a", "thickness": 2, "size": 14}, "encoding": {"x": {"field": "x1", "type": "quantitative", "axis": null}, "y": {"field": "y", "type": "quantitative", "axis": null}}},
              {"mark": {"type": "tick", "orient": "vertical", "color": "#1a1a1a", "thickness": 2, "size": 14}, "encoding": {"x": {"field": "x2", "type": "quantitative", "axis": null}, "y": {"field": "y", "type": "quantitative", "axis": null}}},
              {"mark": {"type": "text", "color": "#000", "align": "left", "baseline": "top", "dy": 4, "fontSize": 13, "fontWeight": "bold", "lineHeight": 15}, "encoding": {"x": {"datum": 1.55, "axis": null}, "y": {"datum": 240, "axis": null}, "text": {"field": "label"}}}
            ]}
          ]}
       ]}
     ]}
   ]},
   {"width": 632, "height": 1, "data": {"values": [{"v": 0}]}, "mark": {"type": "point", "opacity": 0, "size": 0},
    "encoding": {"x": {"field": "v", "type": "quantitative", "scale": {"domain": [0, 1], "nice": false},
      "axis": {"title": "CFSE fluorescence", "ticks": false, "labels": false, "domainWidth": 1.5, "titleFontSize": 12, "titleFontWeight": "bold", "titlePadding": 3, "titleX": 303}}}}
 ]}
]
}
